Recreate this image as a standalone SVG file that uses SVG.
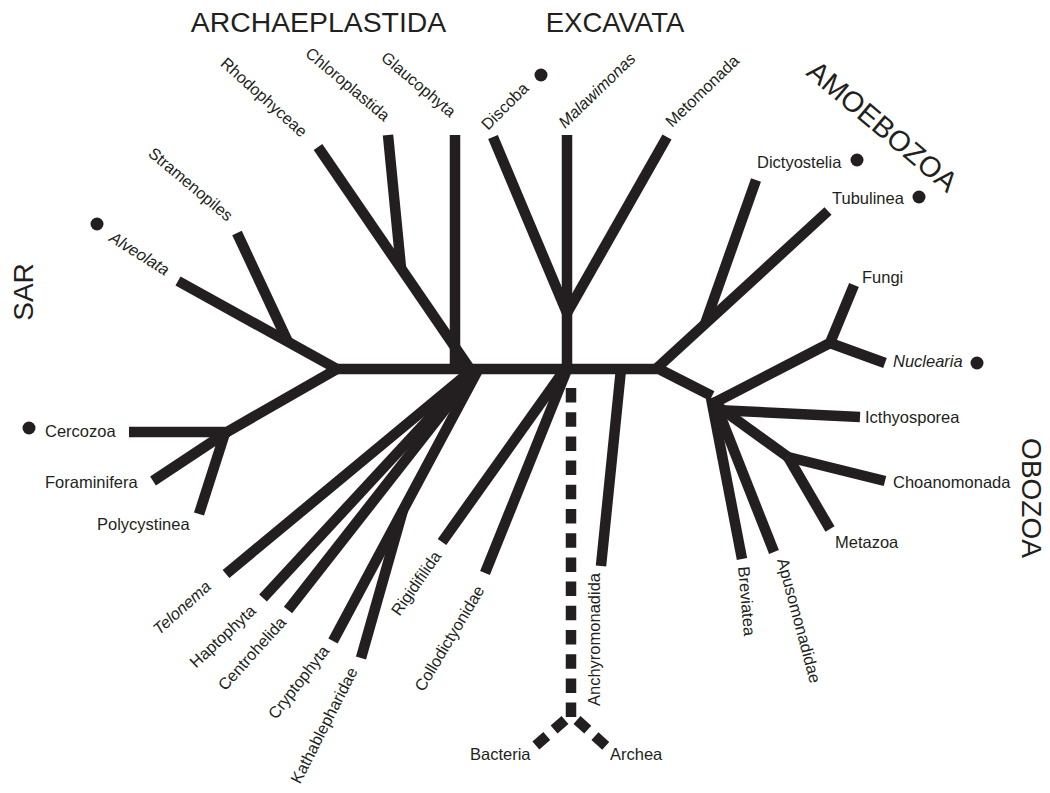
<svg xmlns="http://www.w3.org/2000/svg" width="1050" height="793" viewBox="0 0 1050 793">
<style>
.br{fill:none;stroke:#231f20;stroke-width:10.5;stroke-linecap:butt;stroke-linejoin:miter}
.da{fill:none;stroke:#231f20;stroke-width:10.5;stroke-dasharray:14.5 9.7}
.t{font-family:"Liberation Sans",Arial,sans-serif;font-size:16.5px;fill:#231f20}
.r{font-family:"Liberation Sans",Arial,sans-serif;font-size:16.3px;fill:#231f20}
.i{font-style:italic}
.big{font-family:"Liberation Sans",Arial,sans-serif;font-size:28px;fill:#231f20}
.dot{fill:#231f20}
</style>
<rect width="1050" height="793" fill="#fff"/>
<g id="connectors">
<path class="br" d="M337 369H657"/>
<path class="br" d="M337 369L178 281"/>
<path class="br" d="M288 342L237 233"/>
<path class="br" d="M337 369L227 432H129"/>
<path class="br" d="M227 432L153 481"/>
<path class="br" d="M225 433L199 514"/>
<path class="br" d="M470 369L318 147"/>
<path class="br" d="M401 268L388 135"/>
<path class="br" d="M455 369V135"/>
<path class="br" d="M472 370L226 574"/>
<path class="br" d="M474 370L263 598"/>
<path class="br" d="M476 370L288 610"/>
<path class="br" d="M478 370L333 641"/>
<path class="br" d="M403 510L361 658"/>
<path class="br" d="M567 369V135"/>
<path class="br" d="M567 313L493 137"/>
<path class="br" d="M567 313L667 137"/>
<path class="br" d="M563 372L442 542"/>
<path class="br" d="M566 372L485 573"/>
<path class="br" d="M621 369L601 566"/>
<path class="da" d="M571 388V718"/>
<path class="da" d="M565 720L533 748"/>
<path class="da" d="M577 720L608 748"/>
<path class="br" d="M657 368L828 211"/>
<path class="br" d="M705 324L756 180"/>
<path class="br" d="M657 368L712 396"/>
<path class="br" d="M714 403L830 343"/>
<path class="br" d="M830 343L854 285"/>
<path class="br" d="M830 343L885 363"/>
<path class="br" d="M716 410L860 417"/>
<path class="br" d="M716 405L788 457"/>
<path class="br" d="M788 457L885 481"/>
<path class="br" d="M788 457L830 529"/>
<path class="br" d="M711 398L742 559"/>
<path class="br" d="M714 400L774 552"/>
</g>
<g id="title-archaeplastida"><text class="big" x="318.5" y="32" text-anchor="middle" style="font-size:28.4px">ARCHAEPLASTIDA</text></g>
<g id="title-excavata"><text class="big" x="615" y="32" text-anchor="middle" style="font-size:27.5px">EXCAVATA</text></g>
<g id="title-sar"><text class="big" transform="translate(33 292) rotate(-90)" text-anchor="middle">SAR</text></g>
<g id="title-amoebozoa"><text class="big" transform="translate(876 134) rotate(40)" text-anchor="middle" style="font-size:28.8px">AMOEBOZOA</text></g>
<g id="title-obozoa"><text class="big" transform="translate(1022 498) rotate(90)" text-anchor="middle">OBOZOA</text></g>
<g id="n-rhodophyceae"><text class="r" transform="translate(301 138) rotate(42)" text-anchor="end">Rhodophyceae</text></g>
<g id="n-chloroplastida"><text class="r" transform="translate(384 122) rotate(40)" text-anchor="end">Chloroplastida</text></g>
<g id="n-glaucophyta"><text class="r" transform="translate(450 118) rotate(40)" text-anchor="end">Glaucophyta</text></g>
<g id="n-stramenopiles"><text class="r" transform="translate(227 222) rotate(40)" text-anchor="end">Stramenopiles</text></g>
<g id="n-alveolata"><circle class="dot" cx="97" cy="224" r="6.5"/><text class="r i" transform="translate(165 276) rotate(32)" text-anchor="end">Alveolata</text></g>
<g id="n-discoba"><circle class="dot" cx="541" cy="75" r="6.5"/><text class="r" transform="translate(488 131) rotate(-45)">Discoba</text></g>
<g id="n-malawimonas"><text class="r i" transform="translate(565 129) rotate(-44)">Malawimonas</text></g>
<g id="n-metomonada"><text class="r" transform="translate(672 128) rotate(-44)">Metomonada</text></g>
<g id="n-dictyostelia"><circle class="dot" cx="857" cy="160" r="6.5"/><text class="t" x="757" y="168">Dictyostelia</text></g>
<g id="n-tubulinea"><circle class="dot" cx="919" cy="197" r="6.5"/><text class="t" x="832" y="204">Tubulinea</text></g>
<g id="n-fungi"><text class="t" x="862" y="283">Fungi</text></g>
<g id="n-nuclearia"><circle class="dot" cx="977" cy="363" r="6.5"/><text class="t i" x="893" y="367">Nuclearia</text></g>
<g id="n-icthyosporea"><text class="t" x="865" y="423">Icthyosporea</text></g>
<g id="n-choanomonada"><text class="t" x="893" y="488">Choanomonada</text></g>
<g id="n-metazoa"><text class="t" x="835" y="548">Metazoa</text></g>
<g id="n-breviatea"><text class="t" transform="translate(738 567) rotate(85)">Breviatea</text></g>
<g id="n-apusomonadidae"><text class="t" transform="translate(777 560) rotate(75)">Apusomonadidae</text></g>
<g id="n-cercozoa"><circle class="dot" cx="29" cy="428" r="6.5"/><text class="t" x="45" y="437">Cercozoa</text></g>
<g id="n-foraminifera"><text class="t" x="45" y="488">Foraminifera</text></g>
<g id="n-polycystinea"><text class="t" x="97" y="530">Polycystinea</text></g>
<g id="n-telonema"><text class="r i" transform="translate(212 588) rotate(-42)" text-anchor="end">Telonema</text></g>
<g id="n-haptophyta"><text class="r" transform="translate(257 612) rotate(-43)" text-anchor="end">Haptophyta</text></g>
<g id="n-centrohelida"><text class="r" transform="translate(287 623) rotate(-48)" text-anchor="end">Centrohelida</text></g>
<g id="n-cryptophyta"><text class="r" transform="translate(330 651) rotate(-52)" text-anchor="end">Cryptophyta</text></g>
<g id="n-kathablepharidae"><text class="r" transform="translate(358 671) rotate(-63)" text-anchor="end">Kathablepharidae</text></g>
<g id="n-rigidifilida"><text class="r" transform="translate(442 556) rotate(-55)" text-anchor="end">Rigidifilida</text></g>
<g id="n-collodictyonidae"><text class="r" transform="translate(485 590) rotate(-59)" text-anchor="end">Collodictyonidae</text></g>
<g id="n-anchyromonadida"><text class="t" transform="translate(600 573) rotate(-90)" text-anchor="end">Anchyromonadida</text></g>
<g id="n-bacteria"><text class="t" x="470" y="760">Bacteria</text></g>
<g id="n-archea"><text class="t" x="610" y="760">Archea</text></g>
</svg>
